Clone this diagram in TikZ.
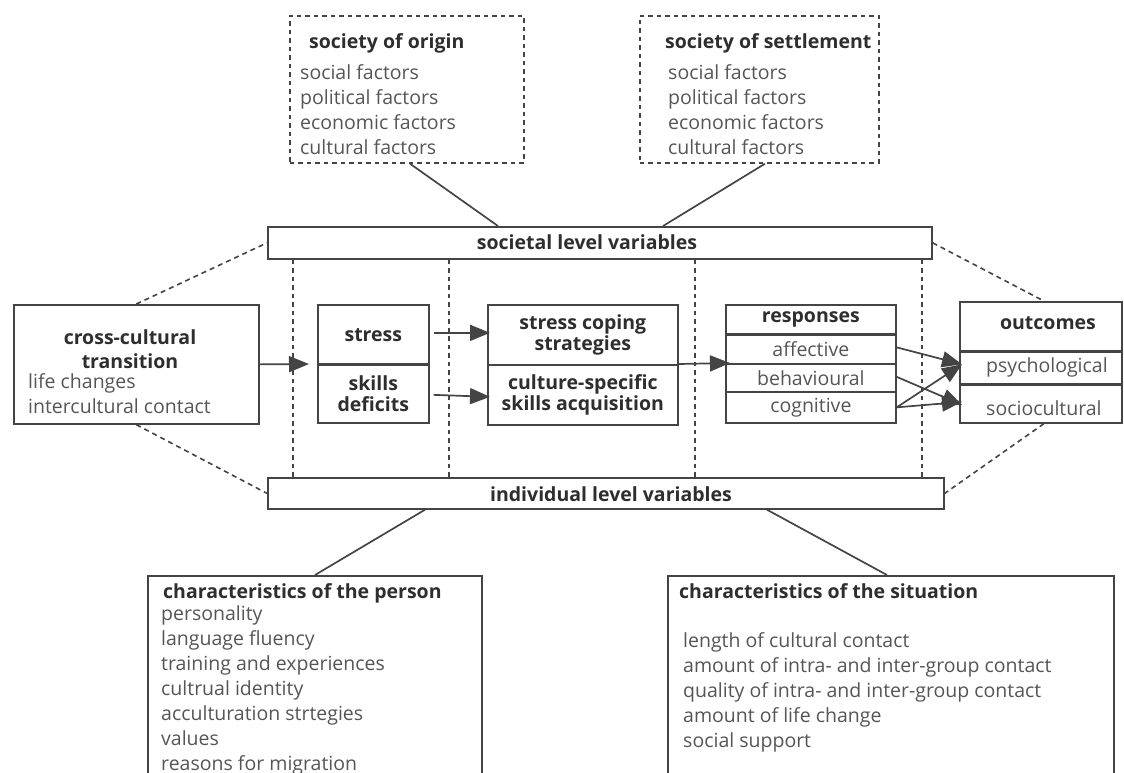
\documentclass[tikz,border=0pt]{standalone}
\usepackage{fontspec}
\setmainfont{Open Sans}
\usetikzlibrary{arrows.meta}
\definecolor{ink}{HTML}{444444}
\definecolor{txt}{HTML}{555555}
\definecolor{ttl}{HTML}{2E2E2E}
\newcommand\bodysize{\fontsize{19.5pt}{24pt}\selectfont}
\begin{document}
\begin{tikzpicture}[x=1pt,y=-1pt,
  box/.style={draw=ink, line width=1.7pt, inner sep=0pt, anchor=north west},
  dbox/.style={box, line width=1.7pt, dash pattern=on 4.5pt off 4pt},
  cbox/.style={box, align=center, font=\bodysize, text=txt},
  tbox/.style={cbox, font=\bodysize\bfseries, text=ttl},
  lbl/.style={inner sep=0pt, anchor=base west, font=\bodysize, text=txt},
  ttlw/.style={inner sep=0pt, anchor=base west, font=\bodysize\bfseries, text=ttl},
  ttlc/.style={ttlw, anchor=base},
  link/.style={draw=ink, line width=1.7pt},
  dlink/.style={draw=ink, line width=1.6pt, dash pattern=on 5pt off 4pt},
  vsep/.style={draw=ink, line width=1.6pt, dash pattern=on 4.5pt off 4pt},
  arr/.style={link, -{Triangle[length=20pt,width=16pt]}},
]
\useasboundingbox (0,0) rectangle (1124,772);
\clip (0,0) rectangle (1124,772);

% ---- societies (top) ----
\node[dbox, minimum width=234pt, minimum height=147pt] (origin) at (289,15) {};
\node[ttlw] (originT) at (309,48) {society of origin};
\foreach \t [count=\i] in {social factors, political factors, economic factors, cultural factors}
  \node[lbl] (o\i) at (300,54+25.2*\i) {\t};

\node[dbox, minimum width=239pt, minimum height=147pt] (settle) at (639,15) {};
\node[ttlw] (settleT) at (665,48) {society of settlement};
\foreach \t [count=\i] in {social factors, political factors, economic factors, cultural factors}
  \node[lbl] (s\i) at (668,54+25.2*\i) {\t};

% ---- level bars ----
\node[box, minimum width=664pt, minimum height=32pt] (soc) at (267,226) {};
\node[ttlc] (socT) at (587,249) {societal level variables};
\node[box, minimum width=676pt, minimum height=31pt] (ind) at (267,477) {};
\node[ttlc] (indT) at (611,501) {individual level variables};

% ---- main chain ----
\node[box, minimum width=245pt, minimum height=119pt] (cross) at (13,304) {};
\node[ttlc] (crossT1) at (130,344) {cross-cultural};
\node[ttlc] (crossT2) at (130,368) {transition};
\node[lbl] (cross1) at (28,388) {life changes};
\node[lbl] (cross2) at (28,413) {intercultural contact};

\node[tbox, minimum width=111pt, minimum height=60pt] (stress) at (317,304) {stress};
\node[tbox, minimum width=111pt, minimum height=58pt] (skills) at (317,364) {skills\\[-3pt]deficits};
\draw[ink, line width=3pt] (skills.north west) -- (skills.north east);

\node[tbox, minimum width=190pt, minimum height=60pt] (coping) at (487,304) {stress coping\\[-3pt]strategies};
\node[tbox, minimum width=190pt, minimum height=60pt] (culture) at (487,364) {culture-specific\\[-3pt]skills acquisition};

\node[tbox, minimum width=170pt, minimum height=30pt] (resp) at (725,304) {responses};
\node[cbox, minimum width=170pt, minimum height=29pt] (aff) at (725,334) {affective};
\node[cbox, minimum width=170pt, minimum height=28pt, text depth=-2pt] (beh) at (725,363) {behavioural};
\node[cbox, minimum width=170pt, minimum height=31pt] (cog) at (725,391) {cognitive};
\draw[ink, line width=3pt] (aff.north west) -- (aff.north east);

\node[box, minimum width=162pt, minimum height=50pt] (outc) at (959,301) {};
\node[ttlc] (outcT) at (1048,329) {outcomes};
\node[box, minimum width=162pt, minimum height=33pt] (psy) at (959,351) {};
\node[lbl] (psyT) at (986,372) {psychological};
\node[box, minimum width=162pt, minimum height=38pt] (soci) at (959,384) {};
\node[lbl] (sociT) at (986,415) {sociocultural};
\draw[ink, line width=2.6pt] (psy.north west) -- (psy.north east);
\draw[ink, line width=2.6pt] (soci.north west) -- (soci.north east);

% ---- characteristics (bottom) ----
\node[box, minimum width=334pt, minimum height=250pt] (person) at (147,575) {};
\node[ttlw] (personT) at (163,598) {characteristics of the person};
\foreach \t [count=\i] in {personality, language fluency, training and experiences, cultrual identity, acculturation strtegies, values, reasons for migration}
  \node[lbl] (p\i) at (161,595+25*\i) {\t};

\node[box, minimum width=446pt, minimum height=250pt] (sit) at (667,575) {};
\node[ttlw] (sitT) at (679,598) {characteristics of the situation};
\foreach \t [count=\i] in {length of cultural contact, amount of intra- and inter-group contact, quality of intra- and inter-group contact, amount of life change, social support}
  \node[lbl] (c\i) at (683,622+25*\i) {\t};

% ---- column separators ----
\foreach \x [count=\i] in {293,449,695,922}
  \coordinate (col\i) at (\x,0);
\foreach \i in {1,...,4}
  \draw[vsep] (soc.south -| col\i) -- (ind.north -| col\i);

% ---- solid links between levels ----
\coordinate (xo) at (410,0);  \coordinate (xso) at (498,0);
\coordinate (xs) at (765,0);  \coordinate (xss) at (663,0);
\coordinate (xi1) at (425,0); \coordinate (xp) at (315,0);
\coordinate (xi2) at (767,0); \coordinate (xc) at (887,0);
\draw[link] (origin.south -| xo) -- (soc.north -| xso);
\draw[link] (settle.south -| xs) -- (soc.north -| xss);
\draw[link] (ind.south -| xi1) -- (person.north -| xp);
\draw[link] (ind.south -| xi2) -- (sit.north -| xc);

% ---- dashed frame links ----
\draw[dlink] (cross.north) -- (soc.west);
\draw[dlink] (cross.south) -- (ind.west);
\draw[dlink] (soc.east) -- ([xshift=3pt]outc.north);
\draw[dlink] ([xshift=3pt]soci.south) -- (ind.east);

% ---- arrows ----
\draw[arr] (cross.east) -- ([xshift=-8pt]skills.north west);
\draw[arr] ([xshift=4pt,yshift=2pt]stress.east) -- ([xshift=3pt,yshift=2pt]coping.west);
\draw[arr] ([xshift=4pt,yshift=-1pt]skills.east) -- ([xshift=3pt,yshift=-2pt]culture.west);
\draw[arr] (culture.north east) -- ([xshift=5pt]beh.north west);
\draw[arr] ([yshift=2pt]aff.east) -- ([xshift=3pt,yshift=4pt]psy.west);
\draw[arr] ([yshift=1pt]beh.east) -- ([xshift=3pt,yshift=-1pt]soci.west);
\draw[arr] (cog.east) -- ([xshift=3pt,yshift=4pt]psy.west);
\draw[arr] (cog.east) -- ([xshift=3pt,yshift=2pt]soci.west);
\end{tikzpicture}
\end{document}
